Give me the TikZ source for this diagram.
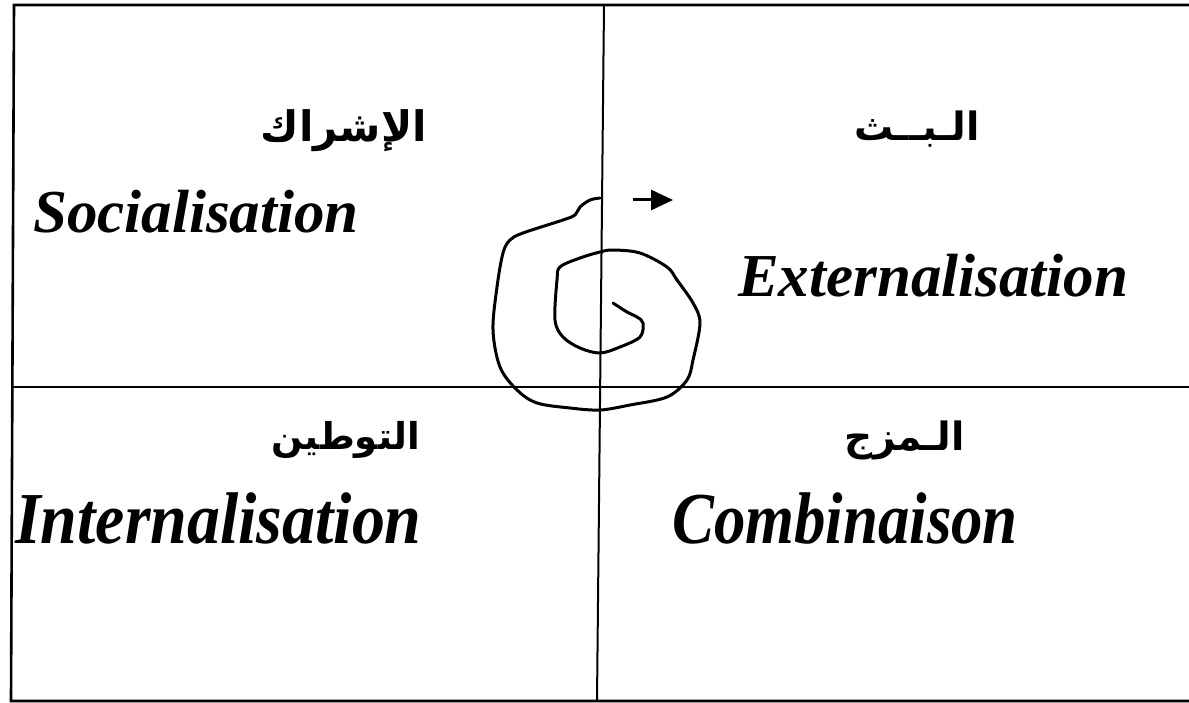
\documentclass[tikz,border=0pt]{standalone}
\usepackage{fontspec}
\usetikzlibrary{arrows.meta}
\TeXXeTstate=1
\newfontfamily\arabicfont[Script=Arabic]{DejaVu Sans}
\newfontfamily\latfont{Liberation Serif}
\tikzset{
  frame/.style={line width=2.6pt, black},
  latin/.style={font=\latfont\bfseries\itshape\fontsize{61}{70}\selectfont, inner sep=0pt, anchor=base west},
  arab/.style={font=\arabicfont\bfseries\fontsize{39}{46}\selectfont, inner sep=0pt, anchor=east},
  spiral/.style={line width=3pt, black, line cap=round, line join=round}
}
\begin{document}
\begin{tikzpicture}[x=1pt, y=-1pt]
\useasboundingbox (0,0) rectangle (1189,703);
% frame
\draw[frame] (1189,5) -- (14,5) -- (11,701) -- (1189,701);
\draw[frame, line width=2pt] (604,5) -- (597,701);
\draw[frame, line width=2pt] (13,387) -- (1189,387);
% labels
\node[arab, font=\arabicfont\bfseries\fontsize{42}{48}\selectfont] (a1) at (427,131) {\beginR الإشراك\endR};
\node[latin] (l1) at (33,233) {Socialisation};
\node[arab] (a2) at (980,129) {\beginR الـبــث\endR};
\node[latin] (l2) at (738,297) {Externalisation};
\node[arab, font=\arabicfont\bfseries\fontsize{37}{44}\selectfont] (a3) at (420,440) {\beginR التوطين\endR};
\node[latin] (l3) at (15,543) {\scalebox{1.08}[1.2]{Internalisation}};
\node[arab] (a4) at (965,440) {\beginR الـمزج\endR};
\node[latin] (l4) at (672,543) {\scalebox{1.03}[1.2]{Combinaison}};
% spiral
\draw[spiral] plot[smooth, tension=0.55] coordinates {
(600,198) (590,200) (580,207) (575,215) (563,220) (523,233) (510,240) (503,253) (497,287) (493,330) (500,367) (517,390) (537,403) (570,408) (600,410) (630,405) (667,397) (687,380) (693,360) (700,323) (693,303) (677,280) (667,267) (640,253) (613,250) (600,252) (580,258) (560,267) (557,280) (555,320) (563,337) (580,348) (600,353) (620,347) (640,337) (643,323) (637,317) (627,312) (613,303)};
\coordinate (ast) at (633,200);
\coordinate (aen) at (673,200);
\draw[line width=3pt, -{Triangle[length=22pt,width=20pt]}] (ast) -- (aen);
\end{tikzpicture}
\end{document}
